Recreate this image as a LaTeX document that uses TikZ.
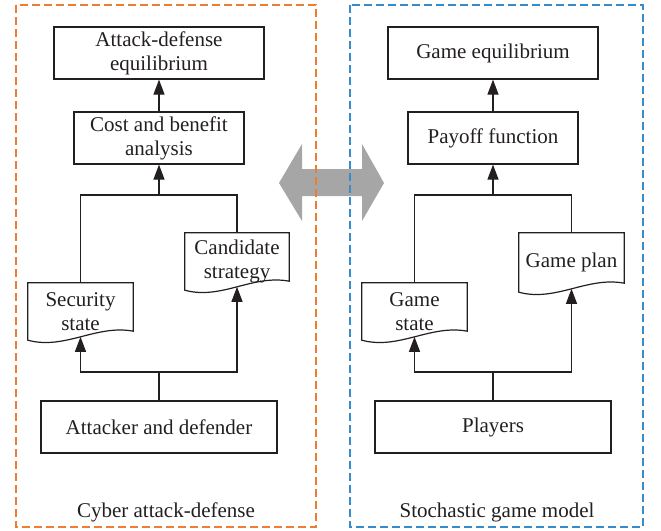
\documentclass[tikz,border=0pt]{standalone}
\usepackage{fontspec}
\setmainfont{Liberation Serif}
\usetikzlibrary{arrows.meta,calc}
\definecolor{frameorange}{RGB}{237,125,49}
\definecolor{frameblue}{RGB}{52,140,204}
\definecolor{ink}{RGB}{35,31,32}
\definecolor{bigarrow}{RGB}{166,166,166}

% document-style box: straight top and sides, wavy bottom;
% #2 names the point on the middle of the wave
\newcommand\drawdoc[2]{%
  \draw[outline] ([yshift=9pt]#1.south east) -- (#1.north east) -- (#1.north west) -- (#1.south west)
    .. controls ($(#1.south west)!0.35!(#1.south east)+(0,-10pt)$)
       and ($(#1.south west)!0.65!(#1.south east)+(0,16pt)$)
    .. coordinate[pos=0.5] (#2) ([yshift=9pt]#1.south east) -- cycle;}

\begin{document}
\begin{tikzpicture}[x=1pt,y=-1pt,
  every node/.style={font=\fontsize{21}{24}\selectfont, text=ink},
  box/.style={draw=ink, line width=1.2pt, align=center, inner sep=0pt},
  doc/.style={align=center, inner sep=0pt},
  outline/.style={draw=ink, line width=1.2pt},
  conn/.style={draw=ink, line width=1.2pt},
  arr/.style={conn, -{Triangle[length=15pt,width=11pt]}},
  frame/.style={line width=1.3pt, dash pattern=on 8pt off 4pt},
]
\useasboundingbox (0,0) rectangle (661,530);

% double-headed link between the two panels
\fill[bigarrow] (279,183) -- (302,144) -- (302,169) -- (362,169) -- (362,144)
  -- (384,183) -- (362,221) -- (362,196) -- (302,196) -- (302,221) -- cycle;

% panel frames
\draw[frame, draw=frameorange] (16,5) rectangle (316,527);
\draw[frame, draw=frameblue] (350,5) rectangle (643,527);

% left panel
\node[box, minimum width=210pt, minimum height=52pt] (ae) at (159,53) {Attack-defense\\equilibrium};
\node[box, minimum width=170pt, minimum height=52pt] (cb) at (159,138) {Cost and benefit\\analysis};
\node[doc, minimum width=105pt, minimum height=57pt] (sec) at (80.5,311.5) {Security\\state};
\node[doc, minimum width=104pt, minimum height=57pt] (cand) at (237,261.5) {Candidate\\strategy};
\node[box, minimum width=236pt, minimum height=52pt] (ad) at (159,427) {Attacker and defender};
\drawdoc{sec}{secin}
\drawdoc{cand}{candin}
\node (lbl1) at (166,512) {Cyber attack-defense};

\coordinate (Ltop) at (159,195);
\coordinate (Lbot) at (159,372);
\draw[arr] (cb.north) -- (ae.south);
\draw[conn] (sec.north) |- (Ltop) -| (cand.north);
\draw[arr] (Ltop) -- (cb.south);
\draw[conn] (ad.north) -- (Lbot);
\draw[arr] (Lbot) -| (secin);
\draw[arr] (Lbot) -| (candin);

% right panel
\node[box, minimum width=210pt, minimum height=52pt] (ge) at (493,53) {Game equilibrium};
\node[box, minimum width=170pt, minimum height=52pt] (pf) at (493,138) {Payoff function};
\node[doc, minimum width=105pt, minimum height=57pt] (gs) at (414.5,311.5) {Game\\state};
\node[doc, minimum width=105pt, minimum height=59pt] (gp) at (571.5,262.5) {Game plan};
\node[box, minimum width=236pt, minimum height=52pt] (pl) at (493,427) {Players};
\drawdoc{gs}{gsin}
\drawdoc{gp}{gpin}
\node (lbl2) at (497,512) {Stochastic game model};

\coordinate (Rtop) at (493,195);
\coordinate (Rbot) at (493,372);
\draw[arr] (pf.north) -- (ge.south);
\draw[conn] (gs.north) |- (Rtop) -| (gp.north);
\draw[arr] (Rtop) -- (pf.south);
\draw[conn] (pl.north) -- (Rbot);
\draw[arr] (Rbot) -| (gsin);
\draw[arr] (Rbot) -| (gpin);
\end{tikzpicture}
\end{document}
